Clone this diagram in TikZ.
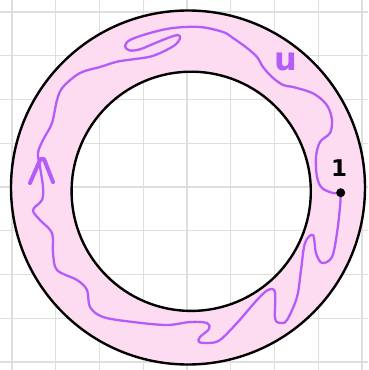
\documentclass[tikz,border=0pt]{standalone}
\usepackage{fontspec}
\setsansfont{DejaVu Sans}
\definecolor{RingFill}{RGB}{253,219,240}
\definecolor{PathInk}{RGB}{180,92,250}
\definecolor{GridLine}{RGB}{222,222,222}
\begin{document}
\begin{tikzpicture}[x=1pt,y=-1pt,
  gridline/.style={draw=GridLine,line width=1.2pt},
  rim/.style={draw=black,line width=2.4pt},
  loopline/.style={draw=PathInk,line width=2.3pt,line cap=round,line join=round},
  arrowmark/.style={draw=PathInk,line width=4pt,line cap=round,line join=round},
  dotmark/.style={circle,fill=black,inner sep=0pt,minimum size=9pt},
  lbl/.style={inner sep=0pt}]
  \useasboundingbox (0,0) rectangle (368,370);
  \fill[white] (0,0) rectangle (368,370);
  % grid
  \foreach \k in {0,...,8} {
    \draw[gridline] ({12+43.75*\k},0) -- ({12+43.75*\k},370);
    \draw[gridline] (0,{12+43.75*\k}) -- (368,{12+43.75*\k});
  }
  % ring
  \fill[RingFill,even odd rule] (188,187.5) circle (177) (191.2,191.3) circle (119.6);
  \draw[rim] (188,187.5) circle (177);
  \draw[rim] (191.2,191.3) circle (119.6);
  % loop through the ring
  \coordinate (base) at (340.7,192.7);
  \draw[loopline] plot[smooth,tension=0.55] coordinates {
    (base) (333,193) (322,188) (317,177) (316,157) (320,142) (330,133)
    (332,120) (328,107) (320,98) (310,92) (293,87) (283,85) (272,77) (263,67)
    (257,57) (247,48) (233,38) (223,32) (200,27) (173,28) (150,33) (130,40)
    (125,46.5) (130,50.5) (140,49.3) (153,44) (167,38.3) (178,35) (180,38.5)
    (175,45) (163,51.7) (150,56.7) (133,59.3) (117,61.7) (100,67) (80,73)
    (63,87) (57,100) (52,123) (43,140) (38,153) (40,167) (43,187) (42,200)
    (33,210) (40,220) (52,233) (53,253) (57,270) (77,280) (87,290) (90,307)
    (103,317) (133,322) (167,325) (190,322) (207,323) (209,329) (200,337)
    (199,342) (209,343) (220,340) (237,323) (257,300) (268,290) (275,292)
    (275,318) (280,323) (287,320) (297,297) (301,270) (305,243) (313,235)
    (316,253) (322,263) (332,257) (337,233) (340,207) (340.7,195)};
  \draw[arrowmark] (30,183) -- (40.5,159) -- (44,159) -- (53,182);
  \node[dotmark] (dot) at (base) {};
  % labels
  \node[lbl,text=PathInk,font=\sffamily\bfseries\fontsize{32}{32}\selectfont] (ulbl) at (286,62) {u};
  \node[lbl,font=\sffamily\bfseries\fontsize{23}{23}\selectfont] (onelbl) at (339,168) {1};
\end{tikzpicture}
\end{document}
